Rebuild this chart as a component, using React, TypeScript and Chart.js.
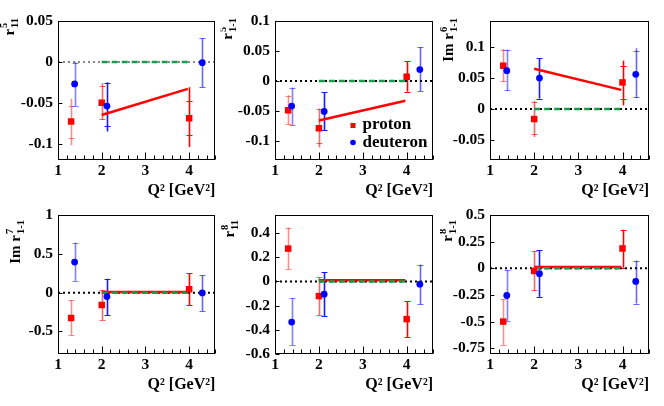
import React, { useEffect, useRef } from 'react';
import { Chart, registerables } from 'chart.js';

Chart.register(...registerables);

const FONT = '"Liberation Serif", "Times New Roman", serif';

// ---------- shared data ----------
const protonQ2 = [1.3, 2.0, 4.0];
const deuteronQ2 = [1.38, 2.12, 4.3];
const modelQ2 = [2.0, 3.97];
const zeroQ2 = [2.0, 4.0];
const xTickValues = [1, 2, 3, 4];
const xRange = [1, 4.6];
const xTitle = 'Q² [GeV²]';

// ---------- r^5_11 ----------
const r511Proton = [-0.073, -0.05, -0.069];
const r511ProtonTot = [[-0.102, -0.045], [-0.071, -0.026], [-0.104, -0.031]];
const r511ProtonCap = [[-0.093, -0.054], [-0.07, -0.029], [-0.09, -0.048]];
const r511Deuteron = [-0.027, -0.054, -0.001];
const r511DeuteronTot = [[-0.054, 0.0], [-0.085, -0.025], [-0.031, 0.029]];
const r511DeuteronCap = [[-0.054, -0.001], [-0.079, -0.026], [-0.031, 0.029]];
const r511Model = [-0.065, -0.033];
const r511Ticks = [-0.1, -0.05, 0, 0.05];

// ---------- r^5_1-1 ----------
const r51m1Proton = [-0.049, -0.079, 0.007];
const r51m1ProtonTot = [[-0.073, -0.024], [-0.111, -0.046], [-0.018, 0.033]];
const r51m1ProtonCap = [[-0.072, -0.025], [-0.104, -0.047], [-0.018, 0.033]];
const r51m1Deuteron = [-0.042, -0.051, 0.019];
const r51m1DeuteronTot = [[-0.074, -0.011], [-0.082, -0.019], [-0.017, 0.056]];
const r51m1DeuteronCap = [[-0.074, -0.011], [-0.082, -0.019], [-0.017, 0.056]];
const r51m1Model = [-0.066, -0.033];
const r51m1Ticks = [-0.1, -0.05, 0, 0.05, 0.1];

// ---------- Im r^6_1-1 ----------
const r61m1Proton = [0.07, -0.016, 0.043];
const r61m1ProtonTot = [[0.044, 0.097], [-0.045, 0.013], [0.006, 0.078]];
const r61m1ProtonCap = [[0.046, 0.096], [-0.04, 0.011], [0.017, 0.069]];
const r61m1Deuteron = [0.062, 0.05, 0.056];
const r61m1DeuteronTot = [[0.029, 0.096], [0.017, 0.082], [0.018, 0.098]];
const r61m1DeuteronCap = [[0.03, 0.095], [0.017, 0.082], [0.02, 0.093]];
const r61m1Model = [0.065, 0.031];
const r61m1Ticks = [-0.05, 0, 0.05, 0.1];

// ---------- Im r^7_1-1 ----------
const r71m1Proton = [-0.326, -0.159, 0.043];
const r71m1ProtonTot = [[-0.549, -0.094], [-0.351, 0.034], [-0.163, 0.249]];
const r71m1Deuteron = [0.394, -0.051, -0.004];
const r71m1DeuteronTot = [[0.15, 0.643], [-0.29, 0.18], [-0.236, 0.223]];
const r71m1Model = [0.01, 0.01];
const r71m1Ticks = [-0.5, 0, 0.5, 1];

// ---------- r^8_11 ----------
const r811Proton = [0.272, -0.121, -0.311];
const r811ProtonTot = [[0.102, 0.446], [-0.278, 0.033], [-0.459, -0.165]];
const r811Deuteron = [-0.336, -0.105, -0.022];
const r811DeuteronTot = [[-0.525, -0.138], [-0.286, 0.077], [-0.187, 0.14]];
const r811Model = [0.01, 0.01];
const r811Ticks = [-0.6, -0.4, -0.2, 0, 0.2, 0.4];

// ---------- r^8_1-1 ----------
const r81m1Proton = [-0.5, -0.025, 0.186];
const r81m1ProtonTot = [[-0.718, -0.29], [-0.208, 0.164], [0.006, 0.362]];
const r81m1Deuteron = [-0.255, -0.05, -0.123];
const r81m1DeuteronTot = [[-0.494, -0.016], [-0.268, 0.167], [-0.331, 0.072]];
const r81m1Model = [0.013, 0.013];
const r81m1Ticks = [-0.75, -0.5, -0.25, 0, 0.25, 0.5];

const legendLabels = ['proton', 'deuteron'];

type PanelDef = {
  col: number; row: number; yMin: number; yMax: number; yTicks: number[];
  pre: string; sup: string; sub: string;
  proton: number[]; protonTot: number[][]; protonCap: number[][];
  deuteron: number[]; deuteronTot: number[][]; deuteronCap: number[][];
  model: number[]; dotColor: string; legend: boolean; titleX: number;
};

const PANELS: PanelDef[] = [
  { col: 0, row: 0, yMin: -0.12, yMax: 0.05, yTicks: r511Ticks, pre: '', sup: '5', sub: '11',
    proton: r511Proton, protonTot: r511ProtonTot, protonCap: r511ProtonCap,
    deuteron: r511Deuteron, deuteronTot: r511DeuteronTot, deuteronCap: r511DeuteronCap,
    model: r511Model, dotColor: '#888888', legend: false, titleX: 13.5 },
  { col: 1, row: 0, yMin: -0.132, yMax: 0.1, yTicks: r51m1Ticks, pre: '', sup: '5', sub: '1-1',
    proton: r51m1Proton, protonTot: r51m1ProtonTot, protonCap: r51m1ProtonCap,
    deuteron: r51m1Deuteron, deuteronTot: r51m1DeuteronTot, deuteronCap: r51m1DeuteronCap,
    model: r51m1Model, dotColor: '#000000', legend: true, titleX: 12 },
  { col: 2, row: 0, yMin: -0.082, yMax: 0.142, yTicks: r61m1Ticks, pre: 'Im ', sup: '6', sub: '1-1',
    proton: r61m1Proton, protonTot: r61m1ProtonTot, protonCap: r61m1ProtonCap,
    deuteron: r61m1Deuteron, deuteronTot: r61m1DeuteronTot, deuteronCap: r61m1DeuteronCap,
    model: r61m1Model, dotColor: '#000000', legend: false, titleX: 13 },
  { col: 0, row: 1, yMin: -0.79, yMax: 1, yTicks: r71m1Ticks, pre: 'Im ', sup: '7', sub: '1-1',
    proton: r71m1Proton, protonTot: r71m1ProtonTot, protonCap: r71m1ProtonTot,
    deuteron: r71m1Deuteron, deuteronTot: r71m1DeuteronTot, deuteronCap: r71m1DeuteronTot,
    model: r71m1Model, dotColor: '#000000', legend: false, titleX: 19.5 },
  { col: 1, row: 1, yMin: -0.6, yMax: 0.55, yTicks: r811Ticks, pre: '', sup: '8', sub: '11',
    proton: r811Proton, protonTot: r811ProtonTot, protonCap: r811ProtonTot,
    deuteron: r811Deuteron, deuteronTot: r811DeuteronTot, deuteronCap: r811DeuteronTot,
    model: r811Model, dotColor: '#000000', legend: false, titleX: 14 },
  { col: 2, row: 1, yMin: -0.804, yMax: 0.5, yTicks: r81m1Ticks, pre: '', sup: '8', sub: '1-1',
    proton: r81m1Proton, protonTot: r81m1ProtonTot, protonCap: r81m1ProtonTot,
    deuteron: r81m1Deuteron, deuteronTot: r81m1DeuteronTot, deuteronCap: r81m1DeuteronTot,
    model: r81m1Model, dotColor: '#000000', legend: false, titleX: 12 },
];

// layout geometry (canvas-local)
const COLS = [
  { x: 0, w: 220, left: 58, right: 216 },
  { x: 220, w: 220, left: 55, right: 213 },
  { x: 440, w: 224, left: 50, right: 209 },
];
const ROWS = [
  { y: 0, h: 200, top: 21, bottom: 160, titlePad: 0, yTitleEnd: 18 },
  { y: 200, h: 206, top: 15, bottom: 154, titlePad: 12, yTitleEnd: 20 },
];

const protonAlpha = [0.45, 0.6, 1];
const deuteronAlpha = [0.5, 0.9, 0.6];

function fmt(v: number) {
  return String(Math.round(v * 1000) / 1000);
}

function Panel({ p }: { p: PanelDef }) {
  const ref = useRef<HTMLCanvasElement | null>(null);
  const col = COLS[p.col];
  const row = ROWS[p.row];

  useEffect(() => {
    const canvas = ref.current;
    if (!canvas) return;
    const tickFont = { family: FONT, size: 15.5, weight: 'bold' as const };

    const errPlugin = {
      id: 'errbars',
      beforeDatasetsDraw(chart: any) {
        const { ctx, scales, chartArea } = chart;
        const x = scales.x, y = scales.y;
        ctx.save();
        ctx.beginPath();
        ctx.rect(chartArea.left, chartArea.top, chartArea.right - chartArea.left, chartArea.bottom - chartArea.top);
        ctx.clip();
        const drawSet = (xs: number[], tot: number[][], cap: number[][], rgb: string, alphas: number[]) => {
          xs.forEach((xv, i) => {
            const px = Math.round(x.getPixelForValue(xv)) + 0.5;
            ctx.strokeStyle = `rgba(${rgb},${alphas[i]})`;
            ctx.lineWidth = 1.6;
            ctx.beginPath();
            ctx.moveTo(px, y.getPixelForValue(tot[i][0]));
            ctx.lineTo(px, y.getPixelForValue(tot[i][1]));
            ctx.stroke();
            ctx.lineWidth = 1;
            for (const c of cap[i]) {
              const py = Math.round(y.getPixelForValue(c)) + 0.5;
              ctx.beginPath();
              ctx.moveTo(px - 3, py);
              ctx.lineTo(px + 3, py);
              ctx.stroke();
            }
          });
        };
        drawSet(protonQ2, p.protonTot, p.protonCap, '255,0,0', protonAlpha);
        drawSet(deuteronQ2, p.deuteronTot, p.deuteronCap, '0,0,255', deuteronAlpha);
        ctx.restore();
      },
    };

    const framePlugin = {
      id: 'frame',
      afterDraw(chart: any) {
        const { ctx, scales, chartArea } = chart;
        const x = scales.x, y = scales.y;
        const L = Math.round(chartArea.left) + 0.5;
        const R = Math.round(chartArea.right) - 0.5;
        const T = Math.round(chartArea.top) + 0.5;
        const B = Math.round(chartArea.bottom) - 0.5;
        ctx.save();
        ctx.strokeStyle = '#000';
        ctx.lineWidth = 1;
        ctx.strokeRect(L, T, R - L, B - T);
        // x ticks (inward from bottom)
        for (let k = 0; k <= 18; k++) {
          const v = 1 + k * 0.2;
          if (v > xRange[1] + 1e-9) break;
          const px = Math.round(x.getPixelForValue(v)) + 0.5;
          const major = Math.abs(v - Math.round(v)) < 1e-6;
          ctx.beginPath();
          ctx.moveTo(px, B);
          ctx.lineTo(px, B - (major ? 7 : 4));
          ctx.stroke();
        }
        // y ticks
        for (const v of p.yTicks) {
          const py = Math.round(y.getPixelForValue(v)) + 0.5;
          ctx.beginPath();
          ctx.moveTo(L, py);
          ctx.lineTo(L + 4, py);
          ctx.stroke();
        }
        // y title
        const mainFont = `bold 15px ${FONT}`;
        const smallFont = `bold 10.5px ${FONT}`;
        ctx.fillStyle = '#000';
        ctx.font = mainFont;
        const wMain = ctx.measureText(p.pre + 'r').width;
        ctx.font = smallFont;
        const wSmall = Math.max(ctx.measureText(p.sup).width, ctx.measureText(p.sub).width);
        const total = wMain + 1 + wSmall;
        ctx.translate(p.titleX, row.yTitleEnd + total);
        ctx.rotate(-Math.PI / 2);
        ctx.textAlign = 'left';
        ctx.textBaseline = 'alphabetic';
        ctx.font = mainFont;
        ctx.fillText(p.pre + 'r', 0, 0);
        ctx.font = smallFont;
        ctx.fillText(p.sup, wMain + 1, -6.5);
        ctx.fillText(p.sub, wMain + 1, 4);
        ctx.restore();

        if (p.legend) {
          ctx.save();
          ctx.fillStyle = '#ff0000';
          ctx.fillRect(130.5, 123, 5, 5);
          ctx.fillStyle = '#0000ff';
          ctx.beginPath();
          ctx.arc(133, 142.5, 2.8, 0, Math.PI * 2);
          ctx.fill();
          ctx.fillStyle = '#000';
          ctx.font = `bold 17px ${FONT}`;
          ctx.textBaseline = 'middle';
          ctx.textAlign = 'left';
          ctx.fillText(legendLabels[0], 142.5, 124.5);
          ctx.fillText(legendLabels[1], 142.5, 142.5);
          ctx.restore();
        }
      },
    };

    const pts = (xs: number[], ys: number[]) => xs.map((xv, i) => ({ x: xv, y: ys[i] }));

    const chart = new Chart(canvas, {
      type: 'scatter',
      data: {
        datasets: [
          {
            label: legendLabels[1],
            data: pts(deuteronQ2, p.deuteron),
            pointStyle: 'circle',
            pointRadius: 3.4,
            backgroundColor: '#0000ff',
            borderWidth: 0,
          },
          {
            label: legendLabels[0],
            data: pts(protonQ2, p.proton),
            pointStyle: 'rect',
            pointRadius: 4.6,
            backgroundColor: '#ff0000',
            borderWidth: 0,
          },
          {
            type: 'line',
            label: 'zero',
            data: pts(zeroQ2, [0, 0]),
            borderColor: '#1a9a4a',
            borderDash: [6, 4],
            borderWidth: 2.5,
            pointRadius: 0,
          } as any,
          {
            type: 'line',
            label: 'model',
            data: pts(modelQ2, p.model),
            borderColor: '#ff0000',
            borderWidth: 2.5,
            pointRadius: 0,
          } as any,
          {
            type: 'line',
            label: 'axis',
            data: pts(xRange, [0, 0]),
            borderColor: p.dotColor,
            borderDash: [2, 3],
            borderWidth: 2,
            pointRadius: 0,
          } as any,
        ],
      },
      options: {
        animation: false,
        responsive: false,
        devicePixelRatio: 1,
        layout: { padding: { top: row.top, right: col.w - col.right, left: 0, bottom: 0 } },
        plugins: { legend: { display: false }, tooltip: { enabled: false } },
        scales: {
          x: {
            type: 'linear',
            min: xRange[0],
            max: xRange[1],
            grid: { display: false, drawTicks: false },
            border: { display: false },
            ticks: { font: tickFont, color: '#000', padding: 2, maxRotation: 0, autoSkip: false, callback: (v: any) => fmt(Number(v)) },
            afterBuildTicks: (s: any) => { s.ticks = xTickValues.map((v) => ({ value: v })); },
            afterFit: (s: any) => { s.height = row.h - row.bottom; },
            title: { display: true, text: xTitle, align: 'end', color: '#000', font: { family: FONT, size: 16, weight: 'bold' }, padding: { top: 0, bottom: row.titlePad } },
          },
          y: {
            type: 'linear',
            min: p.yMin,
            max: p.yMax,
            grid: { display: false, drawTicks: false },
            border: { display: false },
            ticks: { font: tickFont, color: '#000', padding: 5, autoSkip: false, callback: (v: any) => fmt(Number(v)) },
            afterBuildTicks: (s: any) => { s.ticks = p.yTicks.map((v) => ({ value: v })); },
            afterFit: (s: any) => { s.width = col.left; },
          },
        },
      } as any,
      plugins: [errPlugin, framePlugin],
    });
    return () => chart.destroy();
  }, []);

  return (
    <canvas
      ref={ref}
      width={col.w}
      height={row.h}
      style={{ position: 'absolute', left: col.x, top: row.y, width: col.w, height: row.h, display: 'block' }}
    />
  );
}

export default function App() {
  return (
    <div style={{ position: 'absolute', left: 0, top: 0, width: 664, height: 406, background: '#fff', overflow: 'hidden' }}>
      {PANELS.map((p, i) => (
        <Panel key={i} p={p} />
      ))}
    </div>
  );
}
